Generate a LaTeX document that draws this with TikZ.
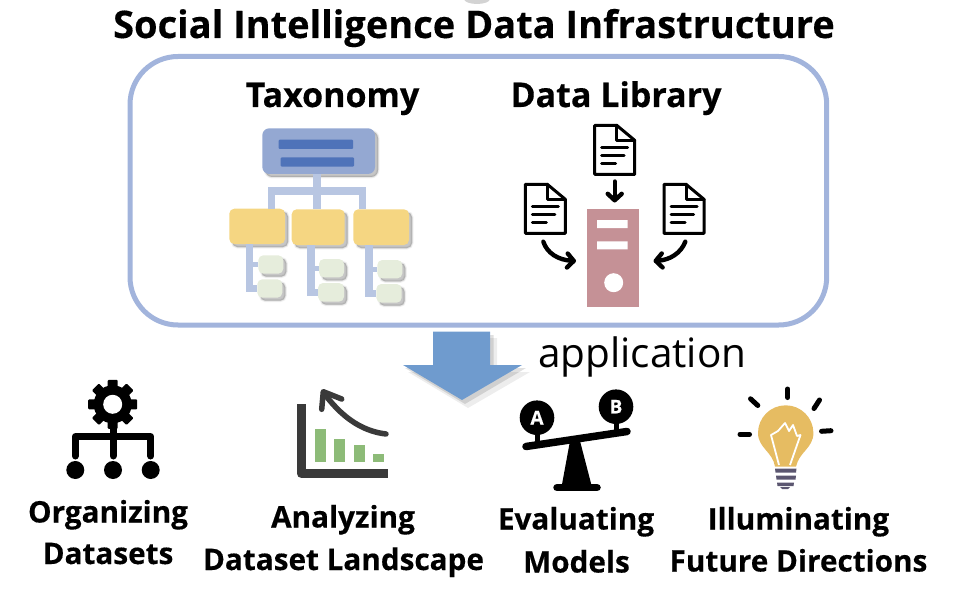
\documentclass[tikz,border=0pt]{standalone}
\usepackage{fontspec}
\setmainfont{Open Sans}
\usetikzlibrary{shadows,arrows.meta}
\definecolor{framec}{HTML}{A2B4DC}
\definecolor{topc}{HTML}{94A8D2}
\definecolor{barc}{HTML}{4F73B9}
\definecolor{treec}{HTML}{B8C6E2}
\definecolor{yelc}{HTML}{F5D682}
\definecolor{grnc}{HTML}{E6EDDC}
\definecolor{srvc}{HTML}{C59196}
\definecolor{arrc}{HTML}{6F9BCE}
\definecolor{axisc}{HTML}{3A3A3A}
\definecolor{barg}{HTML}{8DBB78}
\definecolor{bulbc}{HTML}{E6BC62}
\definecolor{screwc}{HTML}{5B5670}
\newfontfamily\heavy[FakeBold=0.35]{Open Sans Bold}
\tikzset{
  softshadow/.style={
    general shadow={shadow xshift=3pt,shadow yshift=-3pt,fill=black,draw=black,line width=3pt,opacity=.05},
    general shadow={shadow xshift=3pt,shadow yshift=-3pt,fill=black,draw=black,line width=1.5pt,opacity=.07},
    general shadow={shadow xshift=3pt,shadow yshift=-3pt,fill=black,opacity=.12}},
  pbox/.style={rectangle,inner sep=0pt,outer sep=0pt,anchor=north west},
  treebox/.style={pbox,rounded corners=5pt,softshadow},
  treeline/.style={draw=treec,line width=7.3pt},
  head/.style={font=\heavy\fontsize{34}{34}\selectfont,inner sep=0pt,anchor=base},
  lab/.style={font=\heavy\fontsize{29.7}{30}\selectfont,inner sep=0pt,anchor=base},
  docline/.style={line width=3pt,line cap=round,line join=round,black},
  blk/.style={line width=4.4pt,line cap=round,black,-{Straight Barb[length=6.5pt,width=14pt,line width=4.4pt,round]}},
  ray/.style={line width=5pt,line cap=round,black},
}
\newcommand{\docicon}[2]{% x y of top-left
  \begin{scope}[shift={(#1,#2)}]
    \draw[docline,fill=white] (0,0) -- (22,0) -- (40,15) -- (40,49) -- (0,49) -- cycle;
    \draw[docline] (22,0) -- (22,15) -- (40,15);
    \draw[docline] (7,22.4) -- (33,22.4) (7,30) -- (29.5,30) (7,38) -- (21,38);
  \end{scope}}
\begin{document}
\begin{tikzpicture}[x=1pt,y=-1pt]
\useasboundingbox (0,0) rectangle (974,596);
\fill[gray,opacity=.35] (477,-1) ellipse (13 and 5);
% title
\node[head,font=\heavy\fontsize{38}{38}\selectfont] (title) at (474,38) {Social Intelligence Data Infrastructure};
% frame
\node[pbox,minimum width=696.7pt,minimum height=268.5pt,rounded corners=48pt,draw=framec,line width=5pt] (frame) at (130,56.5) {};
\node[head] (tax) at (332.5,107) {Taxonomy};
\node[head] (lib) at (616,107) {Data Library};
% taxonomy
\coordinate (jn) at (317,191);
\node[treebox,fill=topc,minimum width=112.7pt,minimum height=45.7pt,rounded corners=7pt] (top) at (262.3,128.3) {};
\node[pbox,fill=barc,rounded corners=1pt,minimum width=74.3pt,minimum height=9.3pt] (b1) at (278.7,139.7) {};
\node[pbox,fill=barc,rounded corners=1pt,minimum width=73.3pt,minimum height=9.3pt] (b2) at (280.7,157.3) {};
\node[treebox,fill=yelc,minimum width=55.7pt,minimum height=35.3pt] (y1) at (229.3,208.7) {};
\node[treebox,fill=yelc,minimum width=53pt,minimum height=35.7pt] (y2) at (291.7,209.3) {};
\node[treebox,fill=yelc,minimum width=55.7pt,minimum height=35.7pt] (y3) at (353.3,209.3) {};
\node[treebox,fill=grnc,minimum width=25pt,minimum height=18.4pt] (g1) at (258.3,255.3) {};
\node[treebox,fill=grnc,minimum width=25pt,minimum height=18.4pt] (g2) at (257.3,279.3) {};
\node[treebox,fill=grnc,minimum width=25pt,minimum height=18.4pt] (g3) at (319,259) {};
\node[treebox,fill=grnc,minimum width=26pt,minimum height=18.7pt] (g4) at (318,283) {};
\node[treebox,fill=grnc,minimum width=25pt,minimum height=18.4pt] (g5) at (377.3,260) {};
\node[treebox,fill=grnc,minimum width=25.4pt,minimum height=18.7pt] (g6) at (376.3,284) {};
% tree connectors
\draw[treeline] (top.south -| jn) -- (jn |- y2.north);
\draw[treeline] ([xshift=14pt]y1.north) |- (jn) -| ([xshift=-19pt]y3.north);
\draw[treeline] ([xshift=-7.6pt]y1.south) |- (g2.west);
\draw[treeline,line width=5pt] ([xshift=-7.6pt]y1.south |- g1.west) -- (g1.west);
\draw[treeline] ([xshift=-7.2pt]y2.south) |- (g4.west);
\draw[treeline,line width=5pt] ([xshift=-7.2pt]y2.south |- g3.west) -- (g3.west);
\draw[treeline] ([xshift=-12.3pt]y3.south) |- (g6.west);
\draw[treeline,line width=5pt] ([xshift=-12.3pt]y3.south |- g5.west) -- (g5.west);
% data library
\docicon{594.7}{125.3}
\docicon{525.3}{184.3}
\docicon{664}{184.3}
\node[pbox,fill=srvc,minimum width=52pt,minimum height=97.7pt] (srv) at (586.7,209) {};
\fill[white] (597,220) rectangle (627.7,228) (597,241.3) rectangle (627.7,249.3);
\fill[white] (613.7,282.7) circle (9.5);
\coordinate (dt) at (614.7,181.5);
\coordinate (dtb) at (614.7,202.5);
\coordinate (dl) at (543.3,241.7);
\coordinate (dle) at (576,261);
\coordinate (dr) at (685.3,241.7);
\coordinate (dre) at (653.5,261);
\draw[blk] (dt) -- (dtb);
\draw[blk] (dl) .. controls (547,253) and (558,260) .. (dle);
\draw[blk] (dr) .. controls (681,253) and (670,260) .. (dre);
% block arrow
\path[fill=black,opacity=.07] (439,338) -- (497,338) -- (497,372) -- (530,372) -- (468,408) -- (408,372) -- (439,372) -- cycle;
\path[fill=black,opacity=.12] (435.5,335) -- (493.5,335) -- (493.5,368) -- (526,368) -- (465,404) -- (405,368) -- (435.5,368) -- cycle;
\fill[arrc] (433,331.5) -- (490,331.5) -- (490,365) -- (522,365) -- (462,400) -- (403,365) -- (433,365) -- cycle;
\node[inner sep=0pt,anchor=base west,font=\fontsize{40.5}{40.5}\selectfont] (app) at (538,367) {application};
% gear icon
\begin{scope}[shift={(112.7,404.3)}]
  \foreach \a in {0,45,...,315}{\fill[black,rotate=\a,rounded corners=1pt] (-5,-24.5) rectangle (5,-12);}
  \fill[black] (0,0) circle (19);
  \fill[white] (0,0) circle (9.5);
\end{scope}
\node[circle,fill=black,inner sep=0pt,minimum size=18pt] (o1) at (75.3,470) {};
\node[circle,fill=black,inner sep=0pt,minimum size=18pt] (o2) at (113,470) {};
\node[circle,fill=black,inner sep=0pt,minimum size=18pt] (o3) at (150.7,470) {};
\coordinate (gearbot) at (113,424);
\draw[line width=7pt,line cap=round,line join=round] (75.3,456) |- (150.7,436.5) -- (150.7,456);
\draw[line width=7pt,line cap=round] (gearbot) -- (113,456);
% chart
\draw[axisc,line width=9pt,line join=round] (301.2,404) -- (301.2,473.5) -- (388,473.5);
\foreach \xa/\ya in {315.3/429.3,334.3/439,353.7/445,373/454}{\fill[barg] (\xa,\ya) rectangle (\xa+11,462.3);}
\draw[axisc,line width=5.5pt,line cap=round,line join=round] (386,434) .. controls (360,431) and (340,415) .. (323.5,392.5);
\draw[axisc,line width=5.5pt,line cap=round,line join=round] (321.7,409.3) -- (323.3,391.7) -- (341.7,399);
% seesaw
\coordinate (sl) at (526,446.5);
\coordinate (sr) at (627,431.5);
\draw[line width=7.5pt,line cap=round] (sl) -- (sr);
\fill (570,441) -- (580,441) -- (591.7,486) -- (561.7,486) -- cycle;
\draw[line width=7.5pt,line cap=round] (557,487.6) -- (597,487.6);
\draw[line width=5pt] (537,430) -- (537,446);
\draw[line width=5pt] (616,420) -- (616,433);
\node[circle,fill=black,text=white,inner sep=0pt,minimum size=34.6pt,font=\heavy\fontsize{19}{19}\selectfont] (a) at (537,417.7) {A};
\node[circle,fill=black,text=white,inner sep=0pt,minimum size=34.6pt,font=\heavy\fontsize{19}{19}\selectfont] (bb) at (616,406.7) {B};
% bulb
\fill[bulbc] (775,466.7) .. controls (773,452) and (758,448) .. (758,433) arc (180:360:27.7) .. controls (813.4,448) and (799,452) .. (796,466.7) -- cycle;
\draw[white,line width=1.8pt,line join=round] (779,465) -- (771,435) -- (778,431) -- (785,423) -- (789,431) -- (793,425) -- (797,436) -- (800.5,435) -- (790,465);
\fill[screwc] (775,468.5) -- (796.5,468.5) -- (796,472.5) -- (775.5,472.5) -- cycle;
\fill[screwc] (776,475.5) -- (796,475.5) -- (795.5,479.5) -- (776.5,479.5) -- cycle;
\fill[screwc] (777,482.5) -- (794,482.5) -- (793.5,486) -- (777.5,486) -- cycle;
\fill[screwc] (780,487) -- (790,487) -- (788,489) -- (782,489) -- cycle;
\draw[ray] (787.7,389) -- (787.7,397.5);
\draw[ray] (750.5,398.8) -- (757.8,405.5);
\draw[ray] (819.5,400) -- (814,408.5);
\draw[ray] (740,434.3) -- (749.5,434.3);
\draw[ray] (821.5,431.3) -- (831,430.7);
% labels
\node[lab] (l1a) at (108,522.5) {Organizing};
\node[lab] (l1b) at (108,564) {Datasets};
\node[lab] (l2a) at (343,527.5) {Analyzing};
\node[lab] (l2b) at (343.5,570) {Dataset Landscape};
\node[lab] (l3a) at (576,529.5) {Evaluating};
\node[lab] (l3b) at (576.5,572.5) {Models};
\node[lab] (l4a) at (798.5,529.5) {Illuminating};
\node[lab] (l4b) at (798.5,571.5) {Future Directions};
\end{tikzpicture}
\end{document}
